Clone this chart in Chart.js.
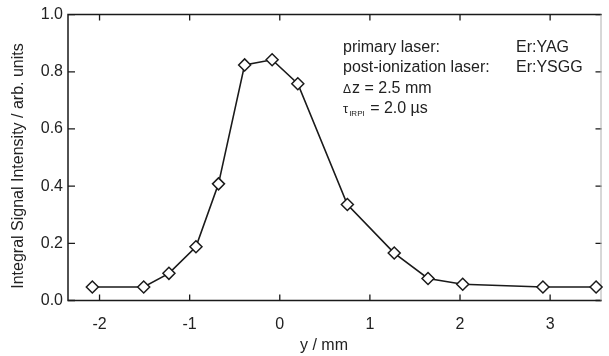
<!DOCTYPE html>
<html>
<head>
<meta charset="utf-8">
<script src="https://cdn.jsdelivr.net/npm/chart.js@4.4.0/dist/chart.umd.min.js"></script>
<style>
  html, body { margin: 0; padding: 0; background: #fff; }
  #wrap { width: 609px; height: 356px; }
</style>
</head>
<body>
<div id="wrap"><canvas id="c" width="609" height="356"></canvas></div>
<script>
// values
var positions = [-2.08, -1.51, -1.23, -0.93, -0.68, -0.39, -0.085, 0.20, 0.75, 1.27, 1.645, 2.03, 2.92, 3.51];
var intensity = [0.047, 0.047, 0.095, 0.188, 0.408, 0.824, 0.842, 0.758, 0.336, 0.166, 0.077, 0.057, 0.047, 0.047];
var xTicks = [-2, -1, 0, 1, 2, 3];
var yTicks = [0, 0.2, 0.4, 0.6, 0.8, 1.0];
var noteLabels = ['primary laser:', 'post-ionization laser:'];
var noteValues = ['Er:YAG', 'Er:YSGG'];

var FONT = '"Liberation Sans", Arial, sans-serif';
var INK = '#1a1a1a';

// frame, inward ticks, titles and the parameter box
var framePlugin = {
  id: 'frame',
  beforeDatasetsDraw: function(chart) {
    var ctx = chart.ctx, a = chart.chartArea;
    var xs = chart.scales.x, ys = chart.scales.y;
    ctx.save();
    ctx.strokeStyle = INK;
    ctx.lineWidth = 1.5;
    ctx.beginPath();
    ctx.moveTo(a.right, a.top);
    ctx.lineTo(a.left, a.top);
    ctx.lineTo(a.left, a.bottom);
    ctx.lineTo(a.right, a.bottom);
    ctx.stroke();

    ctx.lineWidth = 1.3;
    ctx.beginPath();
    xTicks.forEach(function(v) {
      var px = xs.getPixelForValue(v);
      ctx.moveTo(px, a.bottom); ctx.lineTo(px, a.bottom - 6);
      ctx.moveTo(px, a.top); ctx.lineTo(px, a.top + 6);
    });
    yTicks.forEach(function(v) {
      var py = ys.getPixelForValue(v);
      ctx.moveTo(a.left, py); ctx.lineTo(a.left + 7, py);
      ctx.moveTo(a.right, py); ctx.lineTo(a.right - 6, py);
    });
    ctx.stroke();

    ctx.strokeStyle = '#b0b0b0';
    ctx.lineWidth = 1;
    ctx.beginPath();
    ctx.moveTo(a.right - 0.5, a.top);
    ctx.lineTo(a.right - 0.5, a.bottom);
    ctx.stroke();
    ctx.restore();
  },
  afterDraw: function(chart) {
    var ctx = chart.ctx;
    ctx.save();
    ctx.fillStyle = '#222';

    // axis titles
    ctx.font = '16px ' + FONT;
    ctx.textAlign = 'center';
    ctx.textBaseline = 'middle';
    ctx.fillText('y / mm', 324, 346);
    ctx.save();
    ctx.translate(19, 166);
    ctx.rotate(-Math.PI / 2);
    ctx.fillText('Integral Signal Intensity / arb. units', 0, 0);
    ctx.restore();

    // parameter box
    ctx.textAlign = 'left';
    ctx.textBaseline = 'alphabetic';
    var x0 = 343, x1 = 516;
    var base = [52, 72, 93, 113];
    ctx.font = '16px ' + FONT;
    noteLabels.forEach(function(t, i) {
      ctx.fillText(t, x0, base[i]);
      ctx.fillText(noteValues[i], x1, base[i]);
    });

    ctx.font = '12px ' + FONT;
    ctx.fillText('\u0394', x0, base[2]);
    var w = ctx.measureText('\u0394').width;
    ctx.font = '16px ' + FONT;
    ctx.fillText('z = 2.5 mm', x0 + w + 1, base[2]);

    ctx.font = '13px ' + FONT;
    ctx.fillText('\u03C4', x0, base[3]);
    w = ctx.measureText('\u03C4').width;
    ctx.font = '8px ' + FONT;
    ctx.fillText('IRPI', x0 + w + 1, base[3] + 3);
    var w2 = ctx.measureText('IRPI').width;
    ctx.font = '16px ' + FONT;
    ctx.fillText(' = 2.0 \u00B5s', x0 + w + w2 + 2, base[3]);
    ctx.restore();
  }
};

new Chart(document.getElementById('c'), {
  type: 'scatter',
  data: {
    datasets: [{
      data: positions.map(function(x, i) { return { x: x, y: intensity[i] }; }),
      showLine: true,
      borderColor: INK,
      borderWidth: 1.6,
      pointStyle: 'rectRot',
      pointRadius: 6,
      pointBorderWidth: 1.5,
      pointBackgroundColor: '#fff',
      pointBorderColor: INK,
      clip: false
    }]
  },
  options: {
    responsive: false,
    animation: false,
    events: [],
    layout: { padding: { top: 14.5, right: 1, left: 0, bottom: 0 } },
    plugins: { legend: { display: false }, tooltip: { enabled: false } },
    scales: {
      x: {
        type: 'linear',
        min: -2.35,
        max: 3.57,
        afterBuildTicks: function(s) { s.ticks = xTicks.map(function(v) { return { value: v }; }); },
        afterFit: function(s) { s.height = 55.5; },
        grid: { display: false, drawTicks: false },
        border: { display: false },
        ticks: {
          padding: 14,
          color: '#222',
          font: { family: FONT, size: 16 },
          maxRotation: 0,
          callback: function(v) { return String(v); }
        }
      },
      y: {
        min: 0,
        max: 1,
        afterBuildTicks: function(s) { s.ticks = yTicks.map(function(v) { return { value: v }; }); },
        afterFit: function(s) { s.width = 68; },
        grid: { display: false, drawTicks: false },
        border: { display: false },
        ticks: {
          padding: 5,
          color: '#222',
          font: { family: FONT, size: 16 },
          callback: function(v) { return v.toFixed(1); }
        }
      }
    }
  },
  plugins: [framePlugin]
});
</script>
</body>
</html>
